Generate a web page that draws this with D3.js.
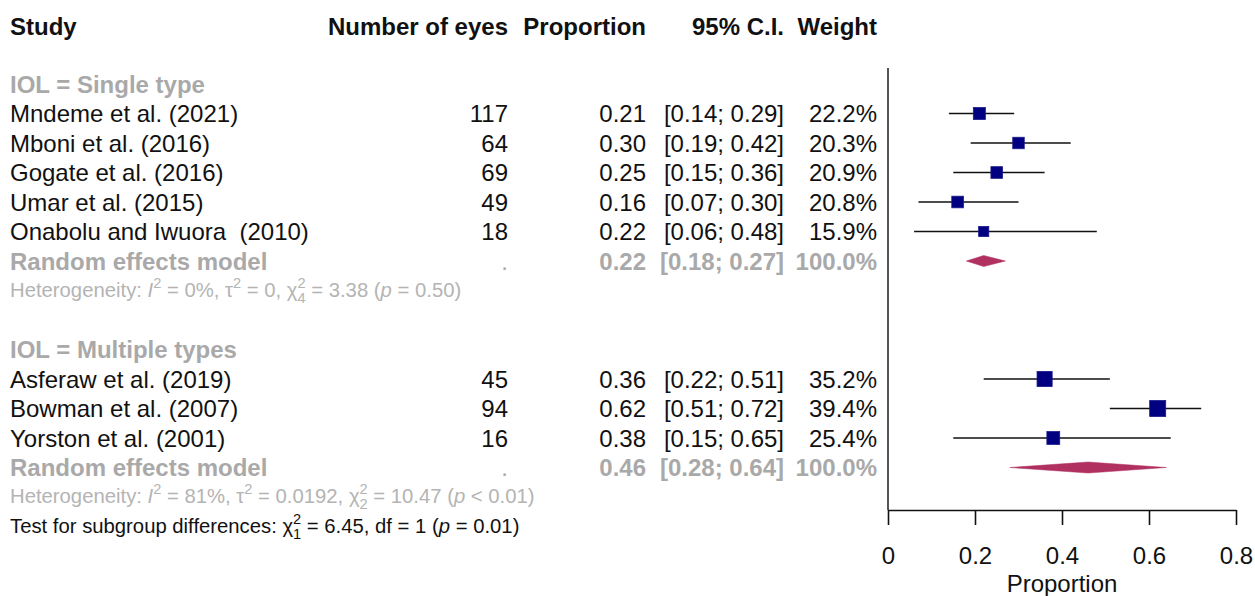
<!DOCTYPE html>
<html>
<head>
<meta charset="utf-8">
<script src="https://cdn.jsdelivr.net/npm/d3@7"></script>
<style>
  body { margin: 0; background: #fff; }
  svg { font-family: "Liberation Sans", Arial, Helvetica, sans-serif; }
  text { white-space: pre; }
</style>
</head>
<body>
<svg id="chart" width="1255" height="596"></svg>
<script>
// data
const groups = ["IOL = Single type", "IOL = Multiple types"];
const studies = ["Mndeme et al. (2021)", "Mboni et al. (2016)", "Gogate et al. (2016)", "Umar et al. (2015)",
  "Onabolu and Iwuora  (2010)", "Asferaw et al. (2019)", "Bowman et al. (2007)", "Yorston et al. (2001)"];
const studyGroup = [0, 0, 0, 0, 0, 1, 1, 1];
const eyes = [117, 64, 69, 49, 18, 45, 94, 16];
const props = [0.21, 0.30, 0.25, 0.16, 0.22, 0.36, 0.62, 0.38];
const lower = [0.14, 0.19, 0.15, 0.07, 0.06, 0.22, 0.51, 0.15];
const upper = [0.29, 0.42, 0.36, 0.30, 0.48, 0.51, 0.72, 0.65];
const weights = [22.2, 20.3, 20.9, 20.8, 15.9, 35.2, 39.4, 25.4];

const pooled = [0.22, 0.46];
const pooledLower = [0.18, 0.28];
const pooledUpper = [0.27, 0.64];
const hetI2 = ["0%", "81%"];
const hetTau2 = ["0", "0.0192"];
const hetDf = ["4", "2"];
const hetQ = ["3.38", "10.47"];
const hetP = ["= 0.50", "< 0.01"];
const axisTicks = [0, 0.2, 0.4, 0.6, 0.8];

const svg = d3.select("#chart");
const black = "#111";
const gray = "#a9a9a9";
const lightGray = "#b4b4b4";
const fs = 24;
const fsSmall = 20.3;

// build row layout
const rows = [];
groups.forEach((g, gi) => {
  rows.push({ type: "group", gi });
  studies.forEach((s, i) => { if (studyGroup[i] === gi) rows.push({ type: "study", i }); });
  rows.push({ type: "pooled", gi });
  rows.push({ type: "het", gi });
  if (gi < groups.length - 1) rows.push({ type: "blank" });
});
rows.push({ type: "test" });

const y = d3.scaleLinear().domain([0, 1]).range([84, 113.5]);
const x = d3.scaleLinear().domain([0, 0.8]).range([888, 1236]);
const size = d3.scaleSqrt().domain([0, 39.4]).range([0, 16]);

const colX = { study: 10, eyes: 508, prop: 646, ciR: 784, weight: 877 };
const fmt2 = d3.format(".2f");
const ci = (l, u) => `[${fmt2(l)}; ${fmt2(u)}]`;

// header
const head = svg.append("g").attr("font-weight", "bold").attr("font-size", fs).attr("fill", black);
head.append("text").attr("x", colX.study).attr("y", 35).text("Study");
head.append("text").attr("x", colX.eyes).attr("y", 35).attr("text-anchor", "end").text("Number of eyes");
head.append("text").attr("x", colX.prop).attr("y", 35).attr("text-anchor", "end").text("Proportion");
head.append("text").attr("x", colX.ciR).attr("y", 35).attr("text-anchor", "end").text("95% C.I.");
head.append("text").attr("x", colX.weight).attr("y", 35).attr("text-anchor", "end").text("Weight");

const dy = 8.5;
// superscript (and optional stacked subscript); returns the baseline offset to undo
function supSub(t, sup, sub, fsz) {
  const s = fsz * 0.72;
  t.append("tspan").attr("font-size", s).attr("dy", -fsz * 0.42).text(sup);
  if (sub) {
    t.append("tspan").attr("font-size", s).attr("dx", -s * 0.56).attr("dy", fsz * 0.72).text(sub);
    return fsz * 0.30;
  }
  return -fsz * 0.42;
}
function hetText(sel, gi, yy) {
  const f = fsSmall;
  const t = sel.append("text").attr("x", colX.study).attr("y", yy + 6).attr("font-size", f).attr("fill", lightGray);
  t.append("tspan").text("Heterogeneity: ");
  t.append("tspan").attr("font-style", "italic").text("I");
  let off = supSub(t, "2", null, f);
  t.append("tspan").attr("dy", -off).text(` = ${hetI2[gi]}, τ`);
  off = supSub(t, "2", null, f);
  t.append("tspan").attr("dy", -off).text(` = ${hetTau2[gi]}, χ`);
  off = supSub(t, "2", hetDf[gi], f);
  t.append("tspan").attr("dy", -off).text(` = ${hetQ[gi]} (`);
  t.append("tspan").attr("font-style", "italic").text("p");
  t.append("tspan").text(` ${hetP[gi]})`);
}

const body = svg.append("g");
rows.forEach((r, k) => {
  const yy = y(k);
  if (r.type === "group") {
    body.append("text").attr("x", colX.study).attr("y", yy + dy).attr("font-size", fs)
      .attr("font-weight", "bold").attr("fill", gray).text(groups[r.gi]);
  } else if (r.type === "study") {
    const i = r.i;
    const g = body.append("g").attr("font-size", fs).attr("fill", black);
    g.append("text").attr("x", colX.study).attr("y", yy + dy).text(studies[i]);
    g.append("text").attr("x", colX.eyes).attr("y", yy + dy).attr("text-anchor", "end").text(eyes[i]);
    g.append("text").attr("x", colX.prop).attr("y", yy + dy).attr("text-anchor", "end").text(fmt2(props[i]));
    g.append("text").attr("x", colX.ciR).attr("y", yy + dy).attr("text-anchor", "end").text(ci(lower[i], upper[i]));
    g.append("text").attr("x", colX.weight).attr("y", yy + dy).attr("text-anchor", "end").text(weights[i].toFixed(1) + "%");
    body.append("line").attr("x1", x(lower[i])).attr("x2", x(upper[i])).attr("y1", yy).attr("y2", yy)
      .attr("stroke", black).attr("stroke-width", 1.6);
    const s = size(weights[i]);
    body.append("rect").attr("x", x(props[i]) - s / 2).attr("y", yy - s / 2).attr("width", s).attr("height", s)
      .attr("fill", "#000080").attr("stroke", "#1a1a8c").attr("stroke-width", 0.8);
  } else if (r.type === "pooled") {
    const gi = r.gi;
    const g = body.append("g").attr("font-size", fs).attr("font-weight", "bold").attr("fill", gray);
    g.append("text").attr("x", colX.study).attr("y", yy + dy).text("Random effects model");
    g.append("text").attr("x", colX.eyes).attr("y", yy + dy).attr("text-anchor", "end").attr("font-weight", "normal").text(".");
    g.append("text").attr("x", colX.prop).attr("y", yy + dy).attr("text-anchor", "end").text(fmt2(pooled[gi]));
    g.append("text").attr("x", colX.ciR).attr("y", yy + dy).attr("text-anchor", "end").text(ci(pooledLower[gi], pooledUpper[gi]));
    g.append("text").attr("x", colX.weight).attr("y", yy + dy).attr("text-anchor", "end").text("100.0%");
    const h = 5.5;
    body.append("path")
      .attr("d", d3.line()([[x(pooledLower[gi]), yy], [x(pooled[gi]), yy - h], [x(pooledUpper[gi]), yy], [x(pooled[gi]), yy + h]]) + "Z")
      .attr("fill", "#b03060").attr("stroke", "#b03060").attr("stroke-width", 0.5);
  } else if (r.type === "het") {
    hetText(body, r.gi, yy);
  } else if (r.type === "test") {
    const f = fsSmall;
    const t = body.append("text").attr("x", colX.study).attr("y", yy + 6).attr("font-size", f).attr("fill", black);
    t.append("tspan").text("Test for subgroup differences: χ");
    const off = supSub(t, "2", "1", f);
    t.append("tspan").attr("dy", -off).text(" = 6.45, df = 1 (");
    t.append("tspan").attr("font-style", "italic").text("p");
    t.append("tspan").text(" = 0.01)");
  }
});

// reference line at 0
svg.append("line").attr("x1", x(0)).attr("x2", x(0)).attr("y1", 68).attr("y2", 510)
  .attr("stroke", "#555").attr("stroke-width", 2);

// x axis
const axis = svg.append("g").attr("transform", "translate(0,510)")
  .call(d3.axisBottom(x).tickValues(axisTicks).tickSize(15).tickSizeOuter(0)
    .tickFormat(d => d === 0 ? "0" : d3.format(".1f")(d)));
axis.select(".domain").attr("stroke", black).attr("stroke-width", 1.6);
axis.selectAll(".tick line").attr("stroke", black).attr("stroke-width", 1.6);
axis.selectAll(".tick text").attr("font-size", fs).attr("font-family", "Liberation Sans, Arial, sans-serif")
  .attr("fill", black).attr("dy", 0).attr("y", 54);
svg.append("text").attr("x", (x(0) + x(0.8)) / 2).attr("y", 592).attr("text-anchor", "middle")
  .attr("font-size", fs).attr("fill", black).text("Proportion");
</script>
</body>
</html>
